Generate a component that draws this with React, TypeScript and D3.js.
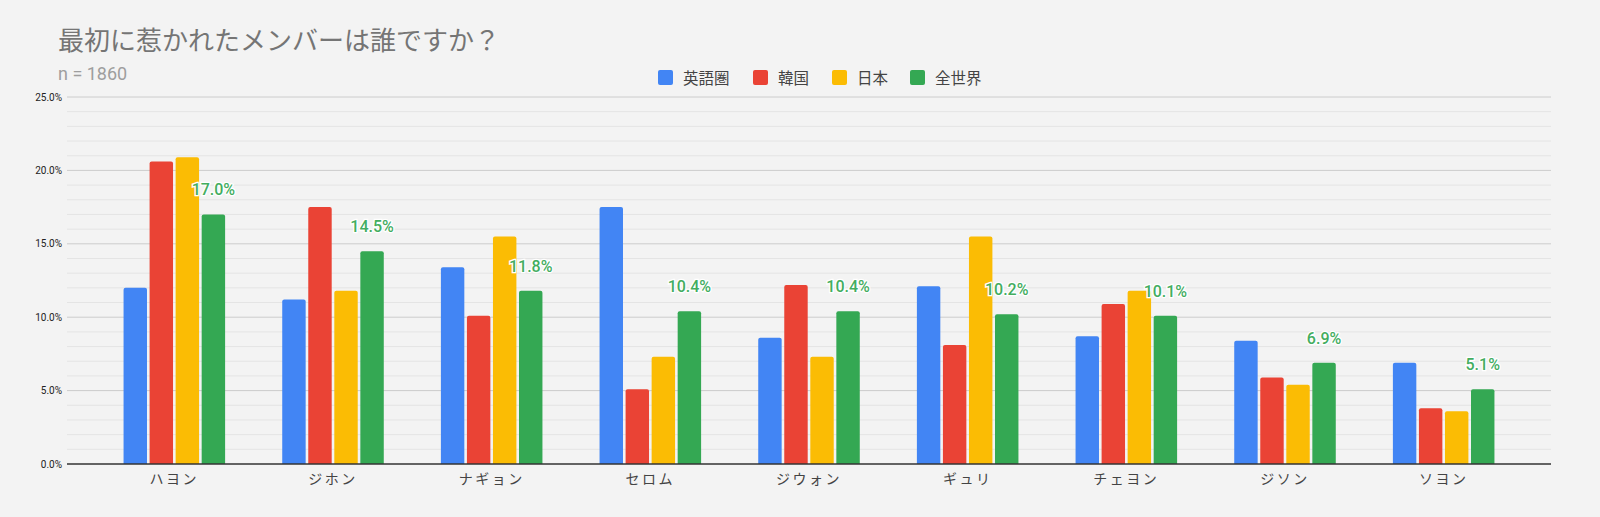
import { useEffect, useRef } from "react";
import * as d3 from "d3";

const categories = ["ハヨン", "ジホン", "ナギョン", "セロム", "ジウォン", "ギュリ", "チェヨン", "ジソン", "ソヨン"];
const seriesNames = ["英語圏", "韓国", "日本", "全世界"];
const seriesColors = ["#4285F4", "#EA4335", "#FBBC04", "#34A853"];

const english = [12.0, 11.2, 13.4, 17.5, 8.6, 12.1, 8.7, 8.4, 6.9];
const korea = [20.6, 17.5, 10.1, 5.1, 12.2, 8.1, 10.9, 5.9, 3.8];
const japan = [20.9, 11.8, 15.5, 7.3, 7.3, 15.5, 11.8, 5.4, 3.6];
const world = [17.0, 14.5, 11.8, 10.4, 10.4, 10.2, 10.1, 6.9, 5.1];

const yTicks = [0, 5, 10, 15, 20, 25];

const W = 1600;
const H = 517;
const FONT = "Roboto, 'Noto Sans CJK JP', sans-serif";

export default function App() {
  const svgRef = useRef<SVGSVGElement>(null);

  useEffect(() => {
    if (!svgRef.current) return;
    const svg = d3.select(svgRef.current);
    svg.selectAll("*").remove();

    const series = [english, korea, japan, world];
    const gridLeft = 67;
    const gridRight = 1551;

    const y = d3.scaleLinear().domain([0, 25]).range([464, 97]);
    const x0 = d3
      .scaleBand()
      .domain(categories)
      .range([95, 1523])
      .paddingInner(0.36)
      .paddingOuter(0.18);
    const x1 = d3
      .scaleBand()
      .domain(seriesNames)
      .range([0, x0.bandwidth()])
      .paddingInner(0.1);

    svg.append("rect").attr("width", W).attr("height", H).attr("fill", "#f3f3f3");

    // titles
    svg
      .append("text")
      .attr("x", 58)
      .attr("y", 50)
      .attr("font-size", 26)
      .attr("fill", "#757575")
      .attr("font-family", FONT)
      .text("最初に惹かれたメンバーは誰ですか？");
    svg
      .append("text")
      .attr("x", 58)
      .attr("y", 80)
      .attr("font-size", 18)
      .attr("fill", "#9e9e9e")
      .attr("font-family", FONT)
      .text("n = 1860");

    // legend
    const legendX = [658, 753, 832, 910];
    const lg = svg.append("g");
    seriesNames.forEach((name, i) => {
      lg.append("rect")
        .attr("x", legendX[i])
        .attr("y", 70)
        .attr("width", 15)
        .attr("height", 15)
        .attr("rx", 2)
        .attr("fill", seriesColors[i]);
      lg.append("text")
        .attr("x", legendX[i] + 25)
        .attr("y", 83.5)
        .attr("font-size", 15.5)
        .attr("fill", "#444")
        .attr("font-family", FONT)
        .text(name);
    });

    // grid
    const minor = d3.range(0, 26).filter((v) => v % 5 !== 0);
    svg
      .append("g")
      .selectAll("line")
      .data(minor)
      .enter()
      .append("line")
      .attr("x1", gridLeft)
      .attr("x2", gridRight)
      .attr("y1", (d) => y(d))
      .attr("y2", (d) => y(d))
      .attr("stroke", "#e4e4e4")
      .attr("stroke-width", 1);
    svg
      .append("g")
      .selectAll("line")
      .data(yTicks.filter((t) => t > 0))
      .enter()
      .append("line")
      .attr("x1", gridLeft)
      .attr("x2", gridRight)
      .attr("y1", (d) => y(d))
      .attr("y2", (d) => y(d))
      .attr("stroke", "#cccccc")
      .attr("stroke-width", 1);

    svg
      .append("g")
      .selectAll("text")
      .data(yTicks)
      .enter()
      .append("text")
      .attr("x", 62)
      .attr("y", (d) => y(d) + 3.5)
      .attr("text-anchor", "end")
      .attr("font-size", 10)
      .attr("fill", "#222")
      .attr("font-family", FONT)
      .text((d) => d.toFixed(1) + "%");

    // bars
    const groups = svg
      .append("g")
      .selectAll("g")
      .data(categories)
      .enter()
      .append("g")
      .attr("transform", (d) => `translate(${x0(d)},0)`);

    groups.each(function (_c, ci) {
      const g = d3.select(this);
      series.forEach((vals, si) => {
        const v = vals[ci];
        g.append("path")
          .attr("d", () => {
            const bx = x1(seriesNames[si]) || 0;
            const bw = x1.bandwidth();
            const top = y(v);
            const bottom = y(0);
            const r = 2;
            return `M${bx},${bottom}V${top + r}Q${bx},${top} ${bx + r},${top}H${bx + bw - r}Q${bx + bw},${top} ${bx + bw},${top + r}V${bottom}Z`;
          })
          .attr("fill", seriesColors[si]);
      });
    });

    // baseline
    svg
      .append("line")
      .attr("x1", gridLeft)
      .attr("x2", gridRight)
      .attr("y1", y(0))
      .attr("y2", y(0))
      .attr("stroke", "#333")
      .attr("stroke-width", 1.5);

    // world labels
    svg
      .append("g")
      .selectAll("text")
      .data(categories)
      .enter()
      .append("text")
      .attr("x", (d) => (x0(d) || 0) + (x1("全世界") || 0) + x1.bandwidth() / 2)
      .attr("y", (_d, i) => y(world[i]) - 19)
      .attr("text-anchor", "middle")
      .attr("font-size", 16)
      .attr("font-weight", 500)
      .attr("fill", "#43ad5f")
      .attr("stroke", "#ffffff")
      .attr("stroke-width", 2.5)
      .attr("paint-order", "stroke")
      .attr("font-family", FONT)
      .text((_d, i) => world[i].toFixed(1) + "%");

    // x labels
    svg
      .append("g")
      .selectAll("text")
      .data(categories)
      .enter()
      .append("text")
      .attr("x", (d) => (x0(d) || 0) + x0.bandwidth() / 2)
      .attr("y", 484)
      .attr("text-anchor", "middle")
      .attr("font-size", 14)
      .attr("letter-spacing", 2.5)
      .attr("fill", "#444")
      .attr("font-family", FONT)
      .text((d) => d);
  }, []);

  return (
    <svg
      ref={svgRef}
      width={W}
      height={H}
      viewBox={`0 0 ${W} ${H}`}
      style={{ position: "absolute", left: 0, top: 0, display: "block" }}
    />
  );
}
